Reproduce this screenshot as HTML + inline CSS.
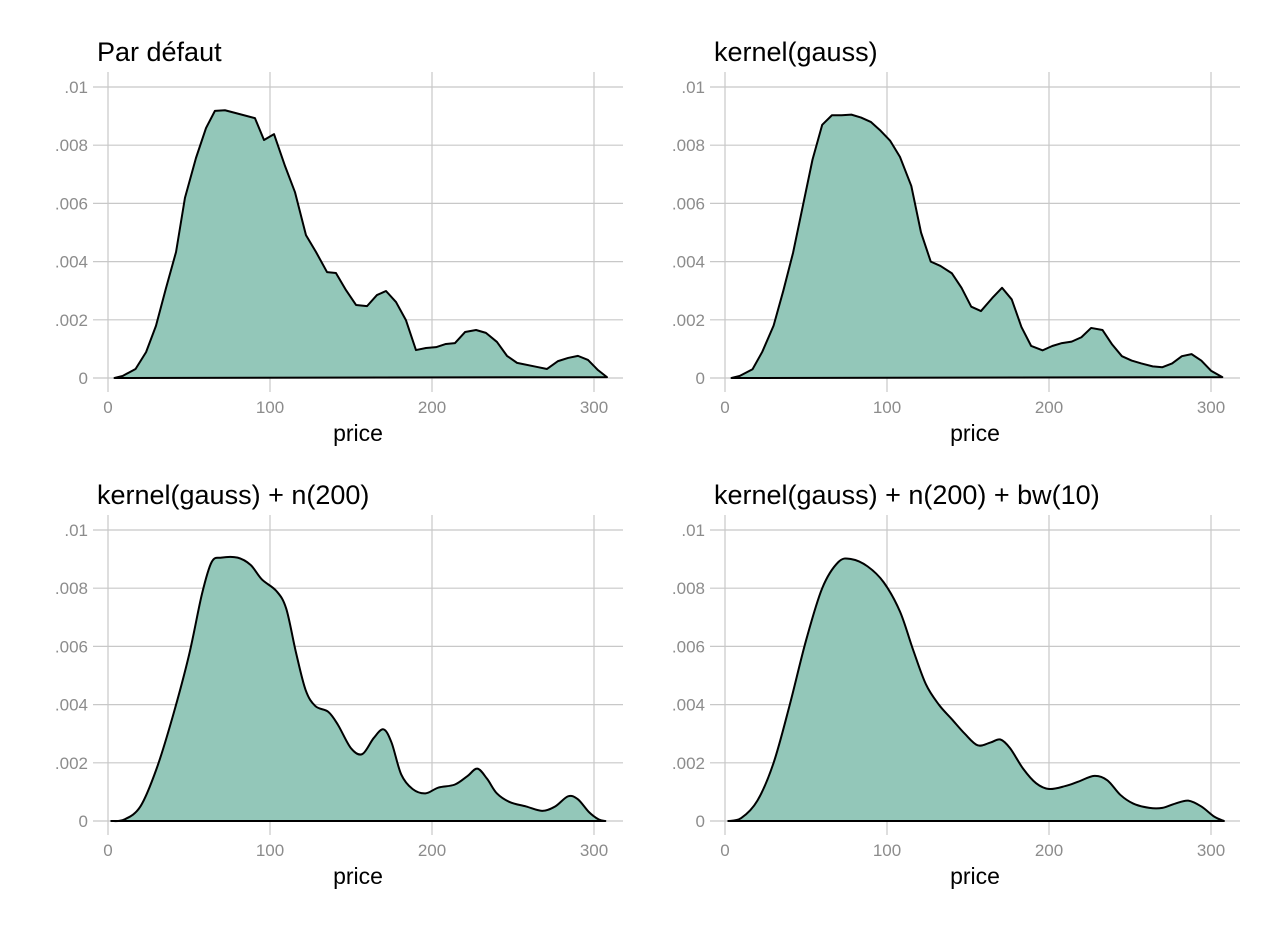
<!DOCTYPE html>
<html><head><meta charset="utf-8">
<style>
html,body{margin:0;padding:0;background:#fff;}
svg{display:block;font-family:"Liberation Sans",Arial,sans-serif;}
</style></head>
<body>
<svg id="chart" width="1277" height="929" viewBox="0 0 1277 929" xmlns="http://www.w3.org/2000/svg"></svg>
<script>
// Data (price, density in thousandths)
const titles = ["Par défaut","kernel(gauss)","kernel(gauss) + n(200)","kernel(gauss) + n(200) + bw(10)"];
const xTicks = [0,100,200,300];
const yTicks = [0,2,4,6,8,10];
const yTickLabels = ["0",".002",".004",".006",".008",".01"];
const p1x = [4,9,17,23.5,29.6,35.8,42,47.5,54.3,60.5,66,72.2,78.4,90.7,96.3,102.5,109.3,115.4,122.2,128.4,135.2,140.7,146.9,153.1,159.9,166,171.6,177.8,183.9,190.1,196.3,202.5,208.6,214.2,220.4,227.2,233.3,240.1,246.3,252.5,264.8,271,277.8,284,290.1,296.3,302.5,308];
const p1y = [0,0.07,0.31,0.89,1.79,3.09,4.33,6.19,7.56,8.59,9.18,9.2,9.11,8.93,8.18,8.38,7.28,6.39,4.91,4.33,3.64,3.61,3.02,2.51,2.47,2.85,2.99,2.61,1.99,0.96,1.03,1.06,1.17,1.2,1.58,1.65,1.55,1.24,0.76,0.52,0.38,0.31,0.58,0.69,0.76,0.62,0.27,0.03];
const p2x = [4,9,17,23,30,36,42,48,54,60,66,72,78,84,90,96,102,108,115,121,127,133,140,146,152,158,165,171,177,183,189,196,202,208,214,220,226,233,239,245,251,257,264,270,276,282,288,294,300,307];
const p2y = [0,0.07,0.3,0.9,1.8,3.0,4.3,5.9,7.5,8.7,9.03,9.03,9.05,8.95,8.8,8.5,8.15,7.6,6.6,5.0,4.0,3.85,3.6,3.1,2.45,2.3,2.75,3.1,2.7,1.75,1.1,0.95,1.1,1.2,1.25,1.4,1.72,1.65,1.15,0.75,0.6,0.5,0.4,0.37,0.5,0.75,0.82,0.6,0.25,0.03];
const p3x = [2,10,20,30,40,50,58,64,70,80,88,95,104,110,116,122,128,136,142,150,157,164,170,175,181,188,196,204,214,222,228,234,240,248,258,268,276,284,290,297,303,307];
const p3y = [0,0.05,0.5,1.8,3.6,5.7,7.8,8.9,9.05,9.05,8.8,8.3,7.9,7.3,5.8,4.5,3.95,3.75,3.3,2.5,2.3,2.85,3.15,2.7,1.6,1.1,0.95,1.15,1.25,1.55,1.8,1.45,0.95,0.65,0.5,0.35,0.5,0.85,0.75,0.3,0.05,0];
const p4x = [2,10,20,30,40,50,60,70,78,88,98,108,116,124,132,140,148,156,164,170,176,184,192,200,210,218,228,236,244,252,262,270,278,286,294,302,308];
const p4y = [0,0.1,0.7,2.0,4.0,6.2,8.0,8.9,9.0,8.75,8.2,7.2,5.9,4.7,4.0,3.5,3.0,2.6,2.7,2.8,2.5,1.8,1.3,1.1,1.2,1.35,1.55,1.4,0.9,0.6,0.45,0.45,0.6,0.7,0.5,0.15,0];
const seriesX = [p1x,p2x,p3x,p4x];
const seriesY = [p1y,p2y,p3y,p4y];
const smooth = [false,false,true,true];

const NS="http://www.w3.org/2000/svg";
const svg=document.getElementById('chart');
function mk(tag,attrs,parent){const e=document.createElementNS(NS,tag);for(const k in attrs)e.setAttribute(k,attrs[k]);(parent||svg).appendChild(e);return e;}
const panels=[{x0:108,y0:378},{x0:725,y0:378},{x0:108,y0:821},{x0:725,y0:821}];
panels.forEach((p,i)=>{
  const g=mk('g',{});
  
  
  const sx=v=>p.x0+v*1.62;
  const sy=v=>p.y0-v*29.1;
  const left=p.x0-15,right=p.x0+515,top=p.y0-306,bot=p.y0+14;
  yTicks.forEach((t,k)=>{
    const l=mk('line',{x1:left,x2:right,y1:sy(t),y2:sy(t),stroke:'#c8c8c8','stroke-width':1.2},g);
    
    
    const tx=mk('text',{x:p.x0-20,y:sy(t)+6,'text-anchor':'end','font-size':17,fill:'#8c8c8c'},g);
    tx.textContent=yTickLabels[k];
    
    
  });
  xTicks.forEach(t=>{
    const l=mk('line',{x1:sx(t),x2:sx(t),y1:top,y2:bot,stroke:'#c8c8c8','stroke-width':1.2},g);
    
    
    const tx=mk('text',{x:sx(t),y:p.y0+35,'text-anchor':'middle','font-size':17,fill:'#8c8c8c'},g);
    tx.textContent=t;
    
    
  });
  const xs=seriesX[i],ys=seriesY[i];
  const pts=xs.map((x,k)=>[sx(x),sy(ys[k])]);
  let d='M'+pts[0][0]+','+pts[0][1];
  if(smooth[i]){
    for(let k=0;k<pts.length-1;k++){
      const p0=pts[Math.max(0,k-1)],p1=pts[k],p2=pts[k+1],p3=pts[Math.min(pts.length-1,k+2)];
      const c1=[p1[0]+(p2[0]-p0[0])/6,p1[1]+(p2[1]-p0[1])/6];
      const c2=[p2[0]-(p3[0]-p1[0])/6,p2[1]-(p3[1]-p1[1])/6];
      d+=' C'+c1+' '+c2+' '+p2;
    }
  } else {
    for(let k=1;k<pts.length;k++) d+=' L'+pts[k][0]+','+pts[k][1];
  }
  const area=mk('path',{d:d+' L'+pts[pts.length-1][0]+','+sy(0)+' L'+pts[0][0]+','+sy(0)+' Z',fill:'#93c7b9',stroke:'none'},g);
  
  
  const line=mk('path',{d:d+' L'+pts[0][0]+','+sy(0)+' Z',fill:'none',stroke:'#000','stroke-width':2,'stroke-linejoin':'round'},g);
  
  
  const ti=mk('text',{x:p.x0-11,y:p.y0-317,'font-size':27,fill:'#000'},g);
  ti.textContent=titles[i];
  
  
  const xl=mk('text',{x:p.x0+250,y:p.y0+63,'text-anchor':'middle','font-size':23,fill:'#000'},g);
  xl.textContent='price';
  
  
});
</script>
</body></html>
